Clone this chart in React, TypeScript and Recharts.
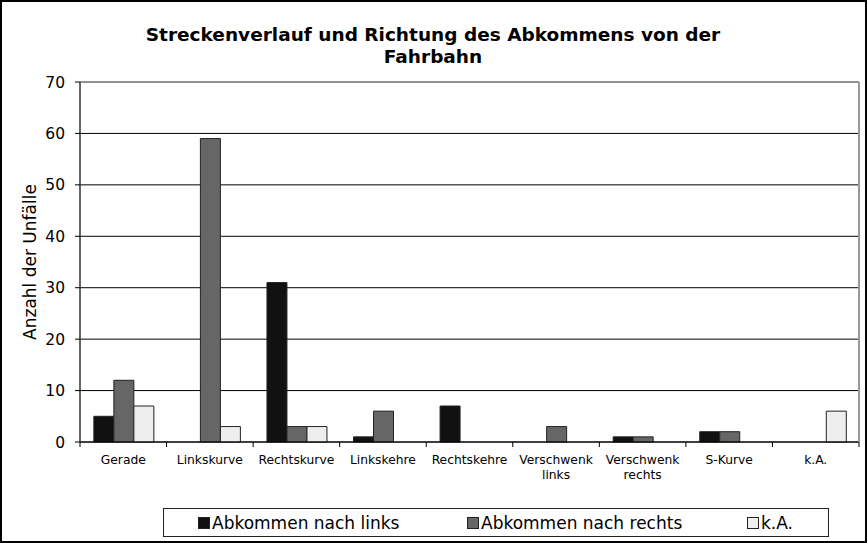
import React from 'react';
import { BarChart, Bar, XAxis, YAxis, CartesianGrid, ReferenceLine } from 'recharts';

const categories = [
  'Gerade',
  'Linkskurve',
  'Rechtskurve',
  'Linkskehre',
  'Rechtskehre',
  'Verschwenk\nlinks',
  'Verschwenk\nrechts',
  'S-Kurve',
  'k.A.',
];
const nachLinks = [5, 0, 31, 1, 7, 0, 1, 2, 0];
const nachRechts = [12, 59, 3, 6, 0, 3, 1, 2, 0];
const keineAngabe = [7, 3, 3, 0, 0, 0, 0, 0, 6];
const yTicks = [0, 10, 20, 30, 40, 50, 60, 70];

const seriesNames = ['Abkommen nach links', 'Abkommen nach rechts', 'k.A.'];
const seriesColors = ['#111111', '#666666', '#eeeeee'];

const data = categories.map((name, i) => ({
  name,
  links: nachLinks[i],
  rechts: nachRechts[i],
  ka: keineAngabe[i],
}));

const FONT = '"DejaVu Sans", Verdana, sans-serif';

const CategoryTick = (props: any) => {
  const { x, y, payload, index } = props;
  const half = payload.offset || 0;
  const lines = String(payload.value).split('\n');
  return (
    <g>
      <line x1={x - half} x2={x - half} y1={y} y2={y + 5} stroke="#000" />
      {index === categories.length - 1 && (
        <line x1={x + half} x2={x + half} y1={y} y2={y + 5} stroke="#000" />
      )}
      <text x={x} y={y + 22} textAnchor="middle" fontSize={12.3} fill="#000" fontFamily={FONT}>
        {lines.map((l, i) => (
          <tspan key={i} x={x} dy={i === 0 ? 0 : 15}>
            {l}
          </tspan>
        ))}
      </text>
    </g>
  );
};

const App: React.FC = () => {
  return (
    <div
      style={{
        position: 'absolute',
        left: 0,
        top: 0,
        width: 867,
        height: 543,
        boxSizing: 'border-box',
        border: '2px solid #000',
        background: '#fff',
        fontFamily: FONT,
      }}
    >
      <div
        style={{
          position: 'absolute',
          left: 0,
          top: 0,
          width: 867,
          height: 543,
        }}
      >
        <div
          style={{
            position: 'absolute',
            top: 22,
            left: 0,
            width: 862,
            textAlign: 'center',
            fontSize: 18.5,
            fontWeight: 'bold',
            lineHeight: '22px',
          }}
        >
          Streckenverlauf und Richtung des Abkommens von der
          <br />
          Fahrbahn
        </div>

        <div
          style={{
            position: 'absolute',
            left: 28,
            top: 260,
            transform: 'translate(-50%, -50%) rotate(-90deg)',
            fontSize: 17,
            whiteSpace: 'nowrap',
          }}
        >
          Anzahl der Unfälle
        </div>

        <div style={{ position: 'absolute', left: -2, top: -2 }}>
          <BarChart
            width={867}
            height={543}
            data={data}
            margin={{ top: 82, right: 0, left: 0, bottom: 41 }}
            barCategoryGap="16%"
            barGap={0}
          >
            <CartesianGrid horizontal vertical={false} stroke="#000" />
            <ReferenceLine y={70} stroke="#999" strokeWidth={1.5} />
            <XAxis
              dataKey="name"
              interval={0}
              height={60}
              tickLine={false}
              tickSize={0}
              tickMargin={0}
              axisLine={{ stroke: '#000' }}
              tick={<CategoryTick />}
            />
            <YAxis
              yAxisId={0}
              width={80}
              domain={[0, 70]}
              ticks={yTicks}
              interval={0}
              tickSize={5}
              tickMargin={10}
              axisLine={{ stroke: '#333', strokeWidth: 1.5 }}
              tickLine={{ stroke: '#000' }}
              tick={{ fill: '#000', fontSize: 15.5, fontFamily: FONT }}
            />
            <YAxis
              yAxisId="r"
              orientation="right"
              width={8}
              domain={[0, 70]}
              tick={false}
              tickLine={false}
              axisLine={{ stroke: '#999', strokeWidth: 2 }}
            />
            <Bar dataKey="links" fill={seriesColors[0]} stroke="#222" isAnimationActive={false} />
            <Bar dataKey="rechts" fill={seriesColors[1]} stroke="#222" isAnimationActive={false} />
            <Bar dataKey="ka" fill={seriesColors[2]} stroke="#222" isAnimationActive={false} />
          </BarChart>
        </div>

        <div
          style={{
            position: 'absolute',
            left: 161,
            top: 506,
            width: 666,
            height: 29,
            boxSizing: 'border-box',
            border: '1px solid #222',
            fontSize: 17,
          }}
        >
          {seriesNames.map((name, i) => (
            <div
              key={name}
              style={{
                position: 'absolute',
                left: [34, 303, 583][i],
                top: 0,
                height: 27,
                display: 'flex',
                alignItems: 'center',
                whiteSpace: 'nowrap',
              }}
            >
              <span
                style={{
                  display: 'inline-block',
                  width: 10,
                  height: 10,
                  background: seriesColors[i],
                  border: '1px solid #222',
                  marginRight: 2,
                }}
              />
              {name}
            </div>
          ))}
        </div>
      </div>
    </div>
  );
};

export default App;
